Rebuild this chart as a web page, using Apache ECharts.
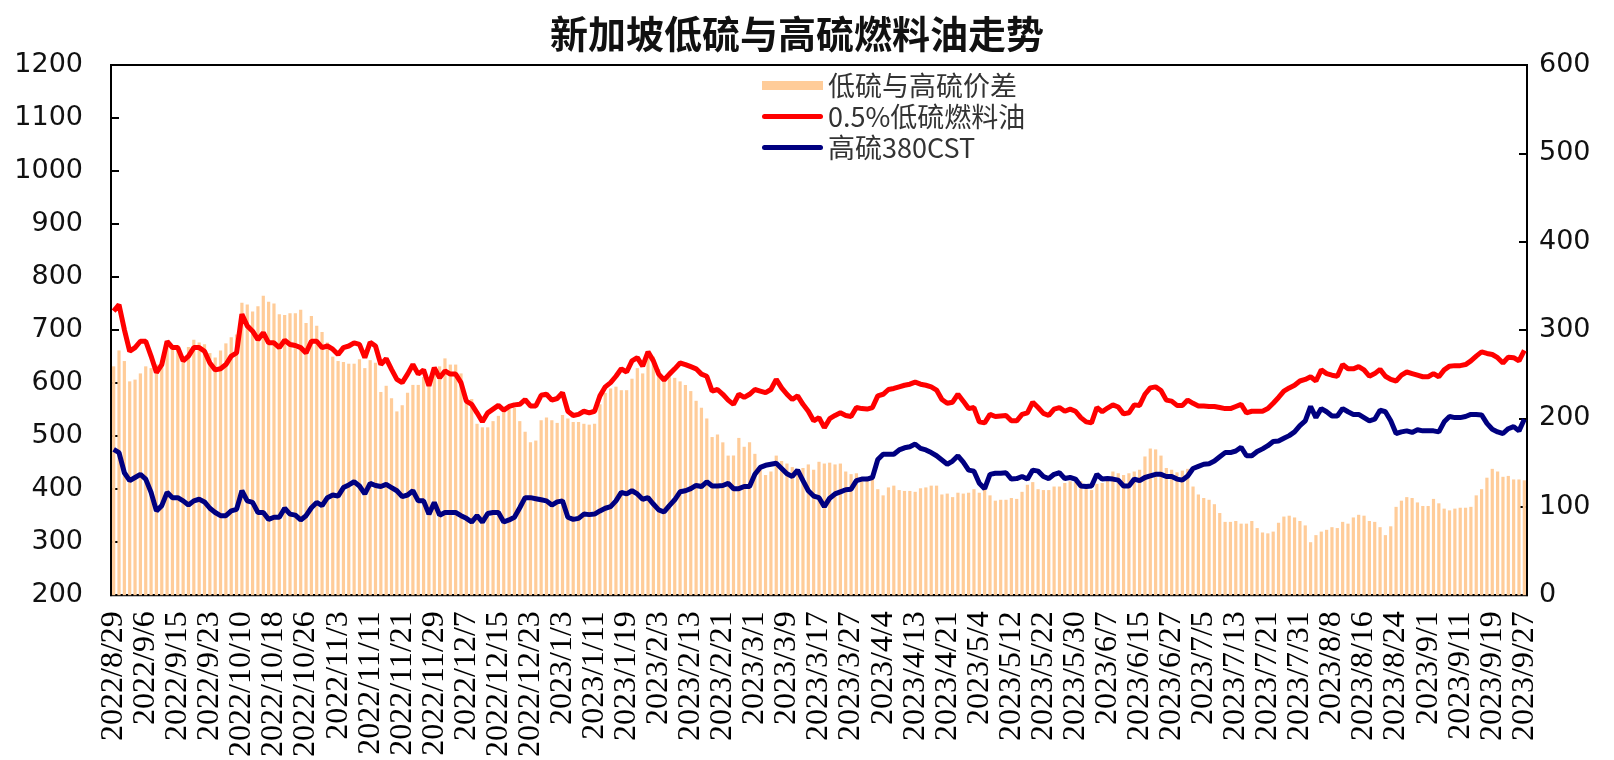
<!DOCTYPE html>
<html>
<head>
<meta charset="utf-8">
<script src="https://cdn.jsdelivr.net/npm/echarts@6.0.0/dist/echarts.min.js"></script>
<style>
  html, body { margin: 0; padding: 0; background: #fff; }
  #echart_fuel { width: 1614px; height: 760px; }
</style>
</head>
<body>
<div id="echart_fuel"></div>
<script>
// 交易日（中国交易日历）
var tradeDays = [
  '2022/8/29','2022/8/30','2022/8/31',
  '2022/9/1','2022/9/2','2022/9/5','2022/9/6','2022/9/7','2022/9/8','2022/9/9','2022/9/13','2022/9/14','2022/9/15','2022/9/16','2022/9/19','2022/9/20','2022/9/21','2022/9/22','2022/9/23','2022/9/26','2022/9/27','2022/9/28','2022/9/29','2022/9/30',
  '2022/10/10','2022/10/11','2022/10/12','2022/10/13','2022/10/14','2022/10/17','2022/10/18','2022/10/19','2022/10/20','2022/10/21','2022/10/24','2022/10/25','2022/10/26','2022/10/27','2022/10/28','2022/10/31',
  '2022/11/1','2022/11/2','2022/11/3','2022/11/4','2022/11/7','2022/11/8','2022/11/9','2022/11/10','2022/11/11','2022/11/14','2022/11/15','2022/11/16','2022/11/17','2022/11/18','2022/11/21','2022/11/22','2022/11/23','2022/11/24','2022/11/25','2022/11/28','2022/11/29','2022/11/30',
  '2022/12/1','2022/12/2','2022/12/5','2022/12/6','2022/12/7','2022/12/8','2022/12/9','2022/12/12','2022/12/13','2022/12/14','2022/12/15','2022/12/16','2022/12/19','2022/12/20','2022/12/21','2022/12/22','2022/12/23','2022/12/26','2022/12/27','2022/12/28','2022/12/29','2022/12/30',
  '2023/1/3','2023/1/4','2023/1/5','2023/1/6','2023/1/9','2023/1/10','2023/1/11','2023/1/12','2023/1/13','2023/1/16','2023/1/17','2023/1/18','2023/1/19','2023/1/20','2023/1/30','2023/1/31',
  '2023/2/1','2023/2/2','2023/2/3','2023/2/6','2023/2/7','2023/2/8','2023/2/9','2023/2/10','2023/2/13','2023/2/14','2023/2/15','2023/2/16','2023/2/17','2023/2/20','2023/2/21','2023/2/22','2023/2/23','2023/2/24','2023/2/27','2023/2/28',
  '2023/3/1','2023/3/2','2023/3/3','2023/3/6','2023/3/7','2023/3/8','2023/3/9','2023/3/10','2023/3/13','2023/3/14','2023/3/15','2023/3/16','2023/3/17','2023/3/20','2023/3/21','2023/3/22','2023/3/23','2023/3/24','2023/3/27','2023/3/28','2023/3/29','2023/3/30','2023/3/31',
  '2023/4/3','2023/4/4','2023/4/6','2023/4/7','2023/4/10','2023/4/11','2023/4/12','2023/4/13','2023/4/14','2023/4/17','2023/4/18','2023/4/19','2023/4/20','2023/4/21','2023/4/24','2023/4/25','2023/4/26','2023/4/27','2023/4/28',
  '2023/5/4','2023/5/5','2023/5/8','2023/5/9','2023/5/10','2023/5/11','2023/5/12','2023/5/15','2023/5/16','2023/5/17','2023/5/18','2023/5/19','2023/5/22','2023/5/23','2023/5/24','2023/5/25','2023/5/26','2023/5/29','2023/5/30','2023/5/31',
  '2023/6/1','2023/6/2','2023/6/5','2023/6/6','2023/6/7','2023/6/8','2023/6/9','2023/6/12','2023/6/13','2023/6/14','2023/6/15','2023/6/16','2023/6/19','2023/6/20','2023/6/21','2023/6/26','2023/6/27','2023/6/28','2023/6/29','2023/6/30',
  '2023/7/3','2023/7/4','2023/7/5','2023/7/6','2023/7/7','2023/7/10','2023/7/11','2023/7/12','2023/7/13','2023/7/14','2023/7/17','2023/7/18','2023/7/19','2023/7/20','2023/7/21','2023/7/24','2023/7/25','2023/7/26','2023/7/27','2023/7/28','2023/7/31',
  '2023/8/1','2023/8/2','2023/8/3','2023/8/4','2023/8/7','2023/8/8','2023/8/9','2023/8/10','2023/8/11','2023/8/14','2023/8/15','2023/8/16','2023/8/17','2023/8/18','2023/8/21','2023/8/22','2023/8/23','2023/8/24','2023/8/25','2023/8/28','2023/8/29','2023/8/30','2023/8/31',
  '2023/9/1','2023/9/4','2023/9/5','2023/9/6','2023/9/7','2023/9/8','2023/9/11','2023/9/12','2023/9/13','2023/9/14','2023/9/15','2023/9/18','2023/9/19','2023/9/20','2023/9/21','2023/9/22','2023/9/25','2023/9/26','2023/9/27'
];

// 0.5%低硫燃料油 (左轴)
var lowSulfur = [
  736,748,701,660,667,679,679,651,620,635,679,667,667,642,651,667,667,660,638,625,627,635,651,657,730,708,698,682,695,676,676,667,681,673,671,667,657,679,679,667,670,664,654,667,670,
  676,673,648,677,670,635,646,626,607,601,617,635,617,625,595,629,610,623,617,617,601,566,560,544,527,544,551,558,549,556,559,560,569,557,557,577,579,568,571,582,547,539,541,547,544,
  547,576,593,601,613,627,621,642,648,632,659,642,617,606,617,627,638,635,631,627,617,613,585,588,579,568,560,579,573,579,588,585,582,588,607,591,579,569,576,560,547,529,535,516,533,
  539,544,539,537,554,552,551,554,576,579,588,590,593,596,598,602,598,596,593,587,569,562,564,579,566,552,554,527,525,541,537,538,539,529,529,541,544,564,554,543,539,551,554,547,
  551,547,535,527,525,554,546,553,559,555,542,544,559,558,579,591,593,586,568,566,558,558,568,562,557,557,556,556,554,552,552,556,560,544,547,547,547,552,562,573,585,591,596,604,607,
  612,604,625,618,615,613,635,627,627,631,625,613,618,626,613,607,604,615,621,618,615,612,612,618,612,625,632,633,633,635,642,651,659,656,654,648,638,649,648,642,662
];

// 高硫380CST (左轴)
var highSulfur = [
  475,469,431,416,422,428,419,394,359,369,394,384,384,378,370,378,381,376,364,356,350,350,359,362,397,378,375,356,356,343,347,347,364,353,351,342,350,365,375,369,384,389,387,403,408,
  414,406,391,411,407,405,409,403,397,386,389,397,378,378,353,375,351,356,356,356,350,345,338,350,338,354,356,356,338,342,347,365,384,384,382,380,378,370,376,378,347,343,345,353,352,
  353,359,364,367,378,394,391,397,391,381,384,372,361,357,369,380,395,397,401,407,405,414,406,406,407,411,401,401,405,405,428,441,445,447,449,439,429,424,436,416,397,387,384,367,383,
  391,395,399,400,416,419,419,422,456,466,466,466,474,478,480,485,477,474,469,463,455,447,453,463,451,436,434,411,401,428,430,430,431,419,420,424,419,436,434,424,420,428,431,420,
  422,419,406,405,406,428,419,420,419,417,406,406,419,416,422,425,428,428,424,424,419,417,425,439,443,447,448,453,461,469,469,472,479,463,463,471,476,482,490,491,496,501,508,520,529,
  556,535,552,546,538,538,552,546,541,541,535,529,532,549,546,529,505,508,510,507,512,510,510,510,508,527,537,535,535,537,541,541,540,524,513,508,505,514,518,510,532
];

// 低硫与高硫价差 (右轴)
var spread = [
  259,277,265,242,244,251,259,257,261,266,285,283,283,264,281,289,286,284,274,269,277,285,292,295,331,329,321,327,339,332,330,318,317,319,319,323,308,316,305,298,286,270,265,264,262,
  262,267,257,266,263,230,237,223,208,215,229,238,238,247,242,254,259,268,261,261,251,219,222,194,190,190,197,203,211,214,212,197,185,173,175,198,201,198,195,204,200,196,196,194,193,
  194,216,229,234,236,232,232,245,257,251,275,270,256,248,248,246,242,238,231,220,212,200,179,182,173,158,158,178,168,173,160,144,136,140,158,152,149,145,141,144,148,142,151,149,150,
  148,149,140,137,138,133,132,132,120,113,122,124,119,118,118,117,121,122,124,124,114,115,111,116,115,116,120,116,124,113,107,108,108,110,109,117,125,128,120,119,119,123,123,127,
  129,128,129,122,119,126,127,133,140,138,136,138,140,142,157,166,165,158,144,142,139,141,143,123,114,110,108,103,93,83,83,84,81,81,84,76,71,70,72,82,89,90,88,84,79,
  60,68,72,74,77,76,83,81,88,91,90,84,83,77,68,78,100,107,111,110,105,101,101,109,104,98,96,98,99,99,100,113,120,133,143,140,134,135,131,131,130
];

var leftTicks = { min: 200, max: 1200, interval: 100 };
var rightTicks = { min: 0, max: 600, interval: 100 };

var chartDom = document.getElementById('echart_fuel');
var myChart = echarts.init(chartDom);

var axisLineStyle = { color: '#000', width: 2 };
var lineIcon = 'path://M2,0 L58,0 A2.5,2.5 0 0 1 58,5 L2,5 A2.5,2.5 0 0 1 2,0 Z';
var plainNumber = function (v) { return String(v); }; // 不要千分位逗号

var option = {
    animation: false,
    backgroundColor: '#fff',
    title: {
        text: '新加坡低硫与高硫燃料油走势',
        left: 545,
        top: 10,
        textStyle: {
            fontFamily: 'Noto Sans CJK SC',
            fontSize: 38,
            fontWeight: 'bold',
            color: '#111'
        }
    },
    legend: {
        orient: 'vertical',
        left: 757,
        top: 67,
        itemWidth: 61,
        itemHeight: 9,
        itemGap: 4,
        textStyle: {
            fontFamily: 'Noto Sans CJK SC',
            fontSize: 27,
            lineHeight: 26,
            color: '#333'
        },
        data: [
            { name: '低硫与高硫价差', icon: 'rect' },
            { name: '0.5%低硫燃料油', icon: lineIcon },
            { name: '高硫380CST', icon: lineIcon }
        ]
    },
    grid: {
        left: 111,
        right: 87,
        top: 65,
        bottom: 164,
        show: true,
        borderColor: '#000',
        borderWidth: 2
    },
    xAxis: {
        type: 'category',
        data: tradeDays,
        boundaryGap: true,
        axisLine: { show: true, lineStyle: axisLineStyle },
        axisTick: { show: false },
        axisLabel: {
            interval: 5,
            rotate: 90,
            margin: 16,
            fontFamily: 'Liberation Serif',
            fontSize: 32,
            color: '#000'
        },
        splitLine: { show: false }
    },
    yAxis: [
        {
            type: 'value',
            min: leftTicks.min,
            max: leftTicks.max,
            interval: leftTicks.interval,
            position: 'left',
            axisLine: { show: true, lineStyle: axisLineStyle },
            axisTick: { show: true, inside: true, length: 8, lineStyle: axisLineStyle },
            axisLabel: { margin: 28, formatter: plainNumber, fontFamily: 'DejaVu Sans', fontSize: 27, color: '#111' },
            splitLine: { show: false }
        },
        {
            type: 'value',
            min: rightTicks.min,
            max: rightTicks.max,
            interval: rightTicks.interval,
            position: 'right',
            axisLine: { show: true, lineStyle: axisLineStyle },
            axisTick: { show: true, inside: true, length: 8, lineStyle: axisLineStyle },
            axisLabel: { margin: 12, formatter: plainNumber, fontFamily: 'DejaVu Sans', fontSize: 27, color: '#111' },
            splitLine: { show: false }
        }
    ],
    series: [
        {
            name: '低硫与高硫价差',
            type: 'bar',
            yAxisIndex: 1,
            data: spread,
            barWidth: '60%',
            itemStyle: { color: '#FFCC99' }
        },
        {
            name: '0.5%低硫燃料油',
            type: 'line',
            yAxisIndex: 0,
            data: lowSulfur,
            symbol: 'none',
            color: '#FF0000',
            lineStyle: { color: '#FF0000', width: 5 }
        },
        {
            name: '高硫380CST',
            type: 'line',
            yAxisIndex: 0,
            data: highSulfur,
            symbol: 'none',
            color: '#000080',
            lineStyle: { color: '#000080', width: 5 }
        }
    ]
};

option && myChart.setOption(option);
</script>
</body>
</html>
